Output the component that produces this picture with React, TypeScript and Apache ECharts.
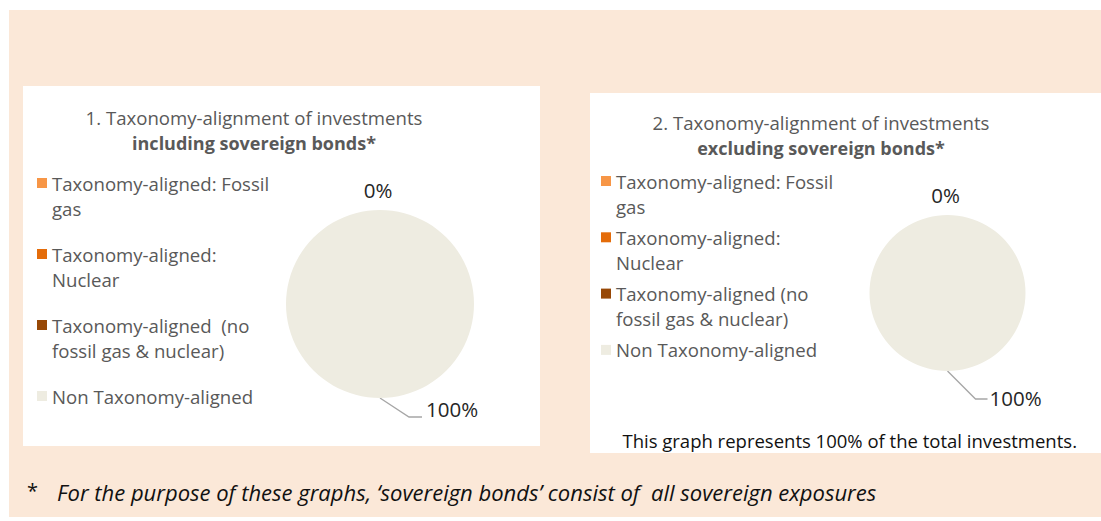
import React, { useEffect, useRef } from 'react';
import * as echarts from 'echarts';

const categoriesIncl = [
  'Taxonomy-aligned: Fossil gas',
  'Taxonomy-aligned: Nuclear',
  'Taxonomy-aligned  (no fossil gas & nuclear)',
  'Non Taxonomy-aligned',
];
const categoriesExcl = [
  'Taxonomy-aligned: Fossil gas',
  'Taxonomy-aligned: Nuclear',
  'Taxonomy-aligned (no fossil gas & nuclear)',
  'Non Taxonomy-aligned',
];
const legendLabelsIncl = [
  'Taxonomy-aligned: Fossil\ngas',
  'Taxonomy-aligned:\nNuclear',
  'Taxonomy-aligned  (no\nfossil gas & nuclear)',
  'Non Taxonomy-aligned',
];
const legendLabelsExcl = [
  'Taxonomy-aligned: Fossil\ngas',
  'Taxonomy-aligned:\nNuclear',
  'Taxonomy-aligned (no\nfossil gas & nuclear)',
  'Non Taxonomy-aligned',
];
const valuesIncl = [0, 0, 0, 100];
const valuesExcl = [0, 0, 0, 100];
const sliceColors = ['#F79646', '#E46C0A', '#974806', '#EEECE1'];

const titleIncl = ['1. Taxonomy-alignment of investments', 'including sovereign bonds*'];
const titleExcl = ['2. Taxonomy-alignment of investments', 'excluding sovereign bonds*'];
const noteText = 'This graph represents 100% of the total investments.';
const footText = 'For the purpose of these graphs, \u2018sovereign bonds\u2019 consist of  all sovereign exposures';

const FONT = "'Open Sans', sans-serif";
const GREY = '#595959';

const pies = [
  { cx: 380, cy: 304, r: 94, lx: 46, ly: 11, ex: 29, ey: 19, hx: 42 },
  { cx: 947.5, cy: 293, r: 78, lx: 42, ly: 27, ex: 28, ey: 28, hx: 40 },
];

function makeLegend(names: string[], labels: string[], left: number, top: number, gap: number) {
  const map: Record<string, string> = {};
  names.forEach((n, i) => {
    map[n] = labels[i]
      .split('\n')
      .map((s) => `{a|${s}}`)
      .join('\n');
  });
  return {
    orient: 'vertical',
    left,
    top,
    padding: 0,
    itemGap: gap,
    itemWidth: 10,
    itemHeight: 10,
    icon: 'rect',
    selectedMode: false,
    data: names.map((n, i) => ({
      name: n,
      textStyle: {
        padding: labels[i].includes('\n') ? [25, 0, 0, 0] : [25, 0, 25, 0],
      },
    })),
    formatter: (name: string) => map[name] ?? name,
    textStyle: {
      color: GREY,
      fontSize: 18.6,
      fontFamily: FONT,
      lineHeight: 25,
      backgroundColor: 'rgba(0,0,0,0)',
      rich: {
        a: { color: GREY, fontSize: 18.6, fontFamily: FONT, lineHeight: 25 },
      },
    },
  };
}

function makePie(names: string[], values: number[], idx: number) {
  const g = pies[idx];
  return {
    type: 'pie',
    center: [g.cx, g.cy],
    radius: [0, g.r],
    startAngle: 90,
    clockwise: true,
    avoidLabelOverlap: false,
    silent: true,
    itemStyle: { borderWidth: 0 },
    label: {
      show: true,
      position: 'outside',
      color: '#262626',
      fontSize: 20.5,
      fontFamily: FONT,
      formatter: (p: any) => `${Math.round(p.percent)}%`,
    },
    labelLine: { show: true, lineStyle: { color: '#A6A6A6', width: 1.3 } },
    labelLayout: (p: any) => {
      if (p.dataIndex === 0) {
        return { x: g.cx - 2, y: g.cy - g.r - 20, align: 'center', verticalAlign: 'middle' };
      }
      const x0 = g.cx;
      const y0 = g.cy + g.r;
      return {
        x: x0 + g.lx,
        y: y0 + g.ly,
        align: 'left',
        verticalAlign: 'middle',
        labelLinePoints: [
          [x0, y0],
          [x0 + g.ex, y0 + g.ey],
          [x0 + g.hx, y0 + g.ey],
        ],
      };
    },
    data: names.map((n, i) => ({
      name: n,
      value: values[i],
      itemStyle: { color: sliceColors[i] },
      label: { show: i === 0 || i === names.length - 1 },
      labelLine: { show: i === names.length - 1 },
    })),
  };
}

export default function App() {
  const ref = useRef<HTMLDivElement>(null);
  useEffect(() => {
    if (!ref.current) return;
    const chart = echarts.init(ref.current, null, { renderer: 'svg' });
    const txt = (x: number, y: number, text: string, opts: any = {}) => ({
      type: 'text',
      x,
      y,
      z: 1,
      style: {
        text,
        fill: opts.fill ?? GREY,
        fontSize: opts.fontSize ?? 18.6,
        fontFamily: FONT,
        fontWeight: opts.fontWeight ?? 'normal',
        fontStyle: opts.fontStyle ?? 'normal',
        textAlign: opts.align ?? 'center',
        textVerticalAlign: 'middle',
      },
    });
    chart.setOption({
      animation: false,
      backgroundColor: '#ffffff',
      graphic: [
        { type: 'rect', z: -10, shape: { x: 9, y: 10, width: 1092, height: 507 }, style: { fill: '#FBE8D8' } },
        { type: 'rect', z: -9, shape: { x: 23, y: 86, width: 517, height: 360 }, style: { fill: '#ffffff' } },
        { type: 'rect', z: -9, shape: { x: 590, y: 93, width: 511, height: 360 }, style: { fill: '#ffffff' } },
        txt(254, 117, titleIncl[0]),
        txt(254, 143, titleIncl[1], { fontWeight: 'bold', fontSize: 18 }),
        txt(821, 122, titleExcl[0]),
        txt(821, 148, titleExcl[1], { fontWeight: 'bold', fontSize: 18 }),
        txt(1077, 440, noteText, { fill: '#111111', fontSize: 18.5, align: 'right' }),
        txt(27, 490, '*', { fill: '#111111', fontSize: 20, align: 'left' }),
        txt(57, 492, footText, { fill: '#111111', fontSize: 22, align: 'left', fontStyle: 'italic' }),
      ],
      legend: [
        makeLegend(categoriesIncl, legendLabelsIncl, 37, 183 - 37.5, -4),
        makeLegend(categoriesExcl, legendLabelsExcl, 601, 181 - 37.5, -18.7),
      ],
      series: [makePie(categoriesIncl, valuesIncl, 0), makePie(categoriesExcl, valuesExcl, 1)],
    });
    return () => chart.dispose();
  }, []);
  return (
    <div
      ref={ref}
      style={{ position: 'fixed', left: 0, top: 0, width: 1101, height: 521 }}
    />
  );
}
